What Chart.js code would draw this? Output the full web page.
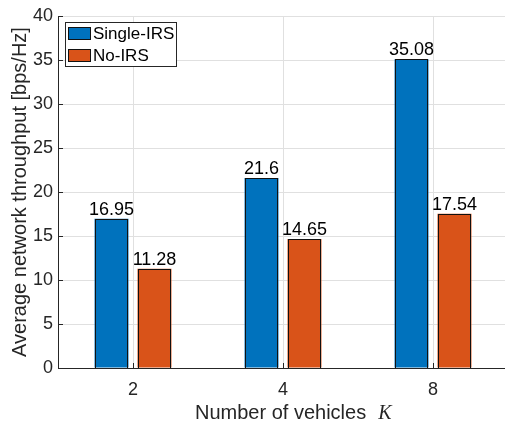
<!DOCTYPE html>
<html>
<head>
<meta charset="utf-8">
<script src="https://cdn.jsdelivr.net/npm/chart.js@4/dist/chart.umd.min.js"></script>
<style>
  html, body { margin: 0; padding: 0; background: #fff; overflow: hidden; }
  #wrap { position: relative; width: 508px; height: 422px; }
</style>
</head>
<body>
<div id="wrap"><canvas id="c"></canvas></div>
<script>
// Throughput per number of vehicles
const categories = ['2', '4', '8'];
const singleIRS = [16.95, 21.6, 35.08];
const noIRS = [11.28, 14.65, 17.54];
const seriesNames = ['Single-IRS', 'No-IRS'];
const yMin = 0, yMax = 40, yStep = 5;

const SANS = '"Liberation Sans", Arial, Helvetica, sans-serif';
const AXIS_COLOR = '#262626';

// Crisp dark edges and value labels for each bar
const barDecor = {
  id: 'barDecor',
  afterDatasetsDraw(chart) {
    const ctx = chart.ctx;
    ctx.save();
    ctx.strokeStyle = '#111';
    ctx.lineWidth = 1;
    chart.data.datasets.forEach((ds, i) => {
      chart.getDatasetMeta(i).data.forEach(bar => {
        const h = bar.width / 2;
        const l = Math.round(bar.x - h), r = Math.round(bar.x + h);
        const t = Math.round(bar.y), b = Math.round(bar.base);
        ctx.strokeRect(l + 0.5, t + 0.5, r - l - 1, b - t);
      });
    });
    ctx.font = '18px ' + SANS;
    ctx.fillStyle = '#000';
    ctx.textAlign = 'center';
    ctx.textBaseline = 'alphabetic';
    chart.data.datasets.forEach((ds, i) => {
      chart.getDatasetMeta(i).data.forEach((bar, j) => {
        ctx.fillText(String(ds.data[j]), bar.x, bar.y - 4);
      });
    });
    ctx.restore();
  }
};

// Axis lines with inward ticks, boxed legend and the x-axis label
const decorations = {
  id: 'decorations',
  afterDraw(chart) {
    const ctx = chart.ctx;
    const a = chart.chartArea;
    const xs = chart.scales.x, ys = chart.scales.y;
    ctx.save();
    ctx.strokeStyle = AXIS_COLOR;
    ctx.lineWidth = 1;
    ctx.beginPath();
    ctx.moveTo(a.left + 0.5, a.top);
    ctx.lineTo(a.left + 0.5, a.bottom + 0.5);
    ctx.lineTo(a.right, a.bottom + 0.5);
    ys.ticks.forEach(t => {
      const y = Math.round(ys.getPixelForValue(t.value)) + 0.5;
      ctx.moveTo(a.left, y);
      ctx.lineTo(a.left + 5, y);
    });
    categories.forEach((c, i) => {
      const x = Math.round(xs.getPixelForValue(i)) + 0.5;
      ctx.moveTo(x, a.bottom);
      ctx.lineTo(x, a.bottom - 5);
    });
    ctx.stroke();

    // legend
    const lx = Math.round(a.left + 7), ly = Math.round(a.top + 6), lw = 111, lh = 44;
    ctx.fillStyle = '#fff';
    ctx.fillRect(lx, ly, lw, lh);
    ctx.strokeStyle = AXIS_COLOR;
    ctx.strokeRect(lx + 0.5, ly + 0.5, lw, lh);
    ctx.font = '17px ' + SANS;
    ctx.textAlign = 'left';
    ctx.textBaseline = 'middle';
    chart.data.datasets.forEach((ds, i) => {
      const ry = Math.round(ly + 5 + i * 22.3);
      ctx.fillStyle = ds.backgroundColor;
      ctx.fillRect(lx + 3, ry, 23, 13);
      ctx.strokeStyle = '#111';
      ctx.strokeRect(lx + 3.5, ry + 0.5, 22, 12);
      ctx.fillStyle = '#000';
      ctx.fillText(ds.label, lx + 28, ry + 7.5);
    });

    // x-axis title with italic K
    ctx.fillStyle = AXIS_COLOR;
    ctx.textBaseline = 'alphabetic';
    ctx.font = '20px ' + SANS;
    const main = 'Number of vehicles';
    const x0 = a.left + 137;
    ctx.fillText(main, x0, 419);
    const w = ctx.measureText(main).width;
    ctx.font = 'italic 20px "Liberation Serif", "DejaVu Serif", serif';
    ctx.fillText('K', x0 + w + 12, 419);
    ctx.restore();
  }
};

new Chart(document.getElementById('c'), {
  type: 'bar',
  data: {
    labels: categories,
    datasets: [
      { label: seriesNames[0], data: singleIRS, backgroundColor: '#0072BD', borderWidth: 0 },
      { label: seriesNames[1], data: noIRS, backgroundColor: '#D95319', borderWidth: 0 }
    ]
  },
  options: {
    responsive: true,
    maintainAspectRatio: false,
    animation: false,
    datasets: { bar: { categoryPercentage: 0.573, barPercentage: 0.79 } },
    layout: { padding: { top: 16, right: 0, bottom: 0, left: 0 } },
    plugins: { legend: { display: false }, tooltip: { enabled: false } },
    scales: {
      x: {
        offset: true,
        grid: { offset: false, color: '#e0e0e0', drawTicks: false },
        border: { display: false },
        ticks: { color: AXIS_COLOR, font: { family: SANS, size: 18 }, padding: 11 },
        afterFit(s) { s.height = 54; }
      },
      y: {
        min: yMin, max: yMax,
        ticks: { stepSize: yStep, color: AXIS_COLOR, font: { family: SANS, size: 18 }, padding: 5 },
        grid: { color: '#e0e0e0', drawTicks: false },
        border: { display: false },
        title: {
          display: true,
          text: 'Average network throughput [bps/Hz]',
          color: AXIS_COLOR,
          font: { family: SANS, size: 20, lineHeight: 1.2 },
          padding: { top: 8, bottom: 0 }
        },
        afterFit(s) { s.width = 58; }
      }
    }
  },
  plugins: [barDecor, decorations]
});
</script>
</body>
</html>
